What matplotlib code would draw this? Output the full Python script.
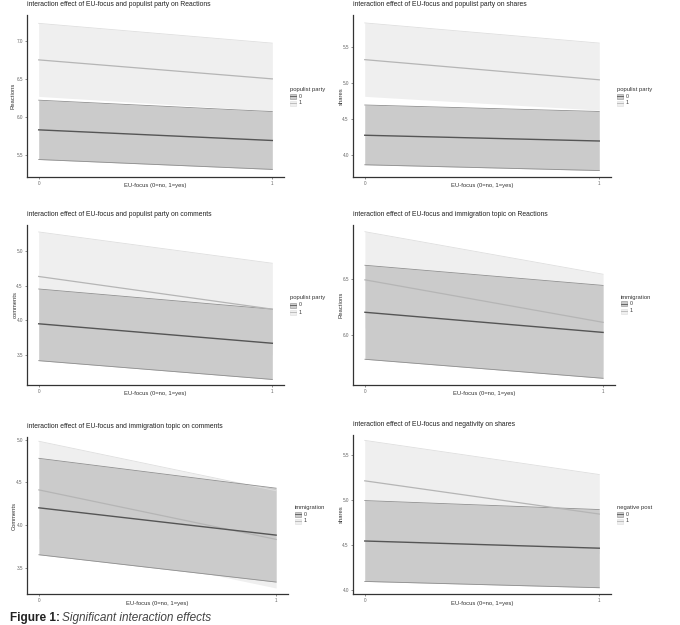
import matplotlib
matplotlib.use("Agg")
import matplotlib.pyplot as plt
from matplotlib.patches import Rectangle
from matplotlib.ticker import FormatStrFormatter

plt.rcParams['font.family'] = ['Liberation Sans', 'DejaVu Sans']

W, H = 680, 625
eu_focus = [0, 1]

# (fit, lower, upper) at EU-focus 0 and 1, per group
titles = [
    "interaction effect of EU-focus and populist party on Reactions",
    "interaction effect of EU-focus and populist party on shares",
    "interaction effect of EU-focus and populist party on comments",
    "interaction effect of EU-focus and immigration topic on Reactions",
    "interaction effect of EU-focus and immigration topic on comments",
    "interaction effect of EU-focus and negativity on shares",
]
ylabels = ["Reactions", "shares", "comments", "Reactions", "Comments", "shares"]
legend_titles = ["populist party", "populist party", "populist party",
                 "immigration", "immigration", "negative post"]

fit0 = [[5.83, 5.69], [4.28, 4.20], [3.95, 3.67], [6.20, 6.02], [4.20, 3.88], [4.54, 4.46]]
low0 = [[5.44, 5.31], [3.87, 3.79], [3.42, 3.15], [5.78, 5.61], [3.65, 3.33], [4.09, 4.02]]
upp0 = [[6.22, 6.07], [4.70, 4.61], [4.45, 4.16], [6.62, 6.44], [4.78, 4.43], [4.99, 4.89]]

fit1 = [[6.75, 6.50], [5.33, 5.05], [4.63, 4.16], [6.49, 6.11], [4.41, 3.83], [5.21, 4.84]]
low1 = [[6.27, 6.08], [4.82, 4.63], [3.99, 3.50], [6.06, 5.68], [3.84, 3.26], [4.76, 4.40]]
upp1 = [[7.23, 6.97], [5.84, 5.56], [5.27, 4.82], [6.92, 6.54], [4.98, 4.40], [5.66, 5.28]]

yticks = [[5.5, 6.0, 6.5, 7.0], [4.0, 4.5, 5.0, 5.5], [3.5, 4.0, 4.5, 5.0],
          [6.0, 6.5], [3.5, 4.0, 4.5, 5.0], [4.0, 4.5, 5.0, 5.5]]
ylims = [(5.21, 7.34), (3.70, 5.95), (3.07, 5.37), (5.55, 6.98), (3.19, 5.03), (3.95, 5.72)]

# pixel boxes: left, right, top, bottom
boxes = [(27, 284, 15, 177), (353, 611, 15, 177),
         (27, 284, 225, 385), (353, 615, 225, 385),
         (27, 288, 437, 594), (353, 611, 435, 594)]
legend_xy = [(290, 89), (617, 89), (290, 298), (621, 297), (295, 507), (617, 507)]
ylabel_x = [13, 341, 15, 341, 14, 341]

fig = plt.figure(figsize=(6.8, 6.25), dpi=100)

for i in range(6):
    l, r, t, b = boxes[i]
    ax = fig.add_axes([l / W, 1 - b / H, (r - l) / W, (b - t) / H])
    ax.fill_between(eu_focus, low1[i], upp1[i], color="#efefef", lw=0)
    ax.plot(eu_focus, upp1[i], color="#dedede", lw=0.6)
    ax.fill_between(eu_focus, low0[i], upp0[i], color="#cbcbcb", lw=0)
    ax.plot(eu_focus, upp0[i], color="#8f8f8f", lw=0.6)
    ax.plot(eu_focus, low0[i], color="#8f8f8f", lw=0.6)
    ax.plot(eu_focus, fit1[i], color="#b5b5b5", lw=0.9)
    ax.plot(eu_focus, fit0[i], color="#555555", lw=1.0)

    ax.set_xlim(-0.05, 1.05)
    ax.set_ylim(*ylims[i])
    ax.set_xticks([0, 1])
    ax.set_yticks(yticks[i])
    ax.yaxis.set_major_formatter(FormatStrFormatter('%.1f'))
    ax.tick_params(labelsize=3.3, colors="#666666", length=1.5, width=0.5, pad=1.5)
    for s in ["top", "right"]:
        ax.spines[s].set_visible(False)
    for s in ["left", "bottom"]:
        ax.spines[s].set_color("#333333")
        ax.spines[s].set_linewidth(0.9)

    fig.text(l / W, 1 - (t - 7) / H, titles[i], fontsize=4.9, color="#222222",
             ha="left", va="bottom")
    fig.text((l + r) / 2 / W, 1 - (b + 9) / H, "EU-focus (0=no, 1=yes)",
             fontsize=4.2, color="#333333", ha="center", va="center")
    fig.text(ylabel_x[i] / W, 1 - (t + b) / 2 / H, ylabels[i], fontsize=4.2,
             color="#333333", rotation=90, ha="center", va="center")

    lx, ly = legend_xy[i]
    fig.text(lx / W, 1 - ly / H, legend_titles[i], fontsize=4.2, color="#333333",
             ha="left", va="center")
    for k, (fc, ec, lc) in enumerate([("#cbcbcb", "#8f8f8f", "#555555"),
                                      ("#efefef", "#dedede", "#b5b5b5")]):
        ky = ly + 7 + 7 * k
        fig.patches.append(Rectangle((lx / W, 1 - (ky + 2.5) / H), 6 / W, 5 / H,
                                     transform=fig.transFigure, facecolor=fc,
                                     edgecolor=ec, lw=0.4))
        fig.lines.append(plt.Line2D([lx / W, (lx + 6) / W], [1 - ky / H] * 2,
                                    transform=fig.transFigure, color=lc, lw=0.6))
        fig.text((lx + 9) / W, 1 - ky / H, str(k), fontsize=3.8, color="#333333",
                 ha="left", va="center")

fig.text(10 / W, 1 - 624 / H, "Figure 1:", fontsize=8.5, fontweight="bold",
         color="#222222", ha="left", va="bottom")
fig.text(62 / W, 1 - 624 / H, "Significant interaction effects", fontsize=8.5,
         style="italic", color="#444444", ha="left", va="bottom")

fig.savefig("out.png", dpi=100, facecolor="white")
